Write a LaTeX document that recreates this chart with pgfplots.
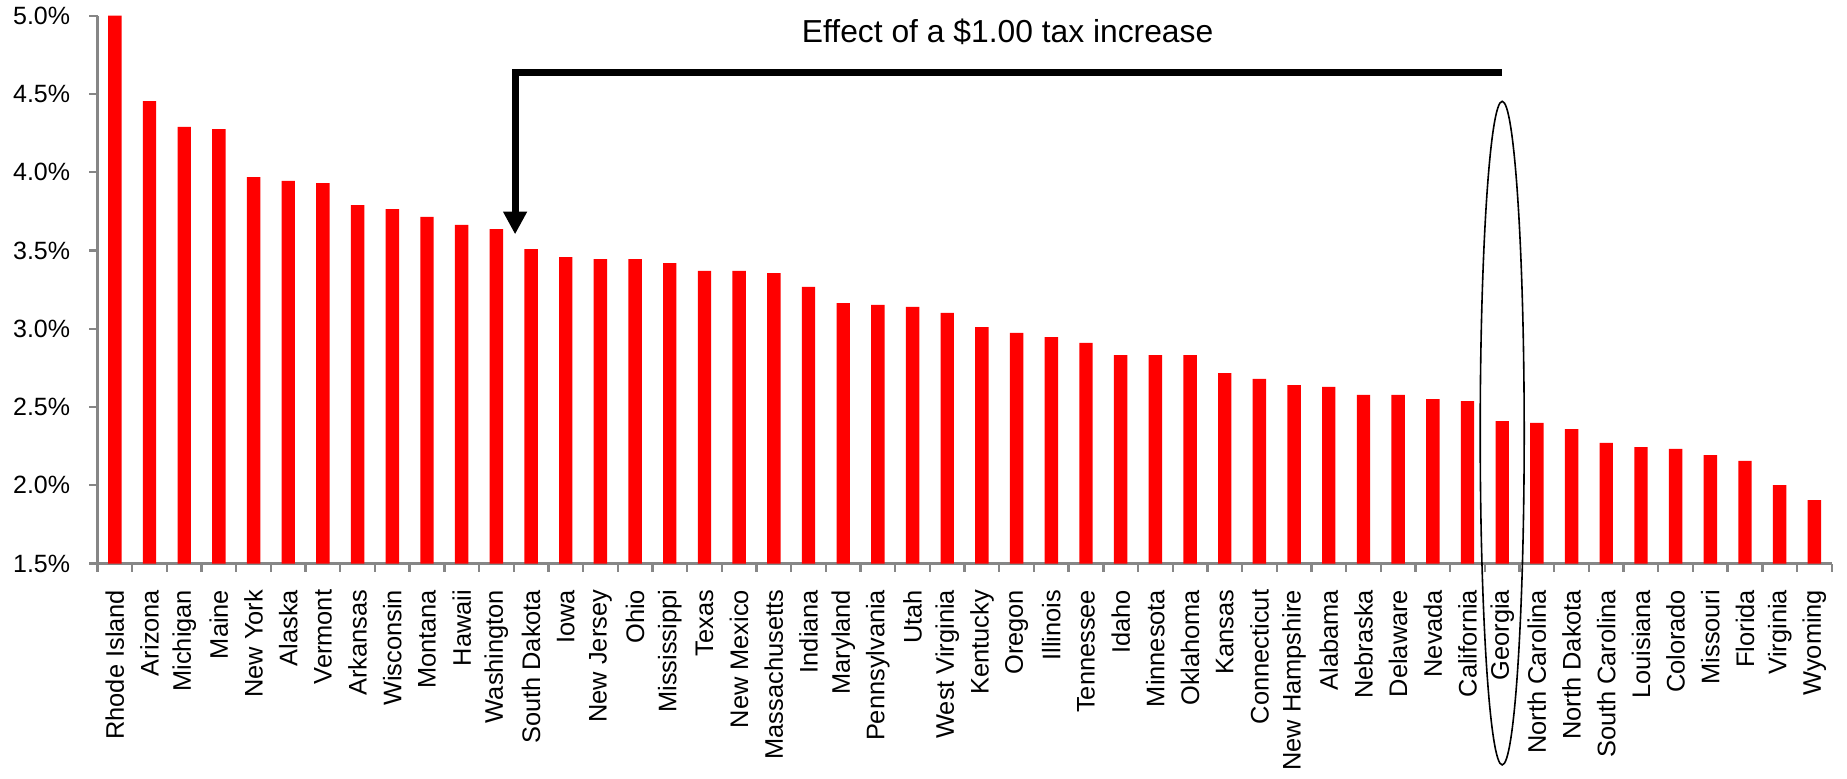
\documentclass[border=0pt]{standalone}
\usepackage{fontspec}
\setmainfont{Liberation Sans}
\usepackage{pgfplots}
\pgfplotsset{compat=1.18}
\usetikzlibrary{arrows.meta}
\definecolor{axgray}{HTML}{868686}
\definecolor{barred}{HTML}{FF0000}
\begin{document}
\begin{tikzpicture}
\begin{axis}[
  scale only axis, width=867.1pt, height=273.9pt,
  xmin=-0.5, xmax=49.5, ymin=1.5, ymax=5,
  axis lines*=left,
  axis line style={draw=axgray, line width=1.2pt},
  ybar, bar width=6.7pt,
  xtick={-0.5,0.5,...,49.5},
  x tick label as interval,
  xticklabels={Rhode Island,Arizona,Michigan,Maine,New York,Alaska,Vermont,Arkansas,Wisconsin,Montana,Hawaii,Washington,South Dakota,Iowa,New Jersey,Ohio,Mississippi,Texas,New Mexico,Massachusetts,Indiana,Maryland,Pennsylvania,Utah,West Virginia,Kentucky,Oregon,Illinois,Tennessee,Idaho,Minnesota,Oklahoma,Kansas,Connecticut,New Hampshire,Alabama,Nebraska,Delaware,Nevada,California,Georgia,North Carolina,North Dakota,South Carolina,Louisiana,Colorado,Missouri,Florida,Virginia,Wyoming},
  ytick={1.5,2,2.5,3,3.5,4,4.5,5},
  yticklabels={1.5\%,2.0\%,2.5\%,3.0\%,3.5\%,4.0\%,4.5\%,5.0\%},
  tick align=outside, major tick length=4pt,
  tick style={draw=axgray, line width=1.2pt},
  xticklabel style={rotate=90, anchor=east, inner ysep=0pt, inner xsep=9pt, font=\fontsize{12.7}{14}\selectfont},
  yticklabel style={anchor=east, inner ysep=0pt, inner xsep=9.5pt, font=\fontsize{12.5}{14}\selectfont},
]
\addplot[draw=none, fill=barred] coordinates {
(0,5.00) (1,4.455) (2,4.289) (3,4.276) (4,3.969) (5,3.944) (6,3.931) (7,3.790) (8,3.765) (9,3.714)
(10,3.663) (11,3.637) (12,3.509) (13,3.458) (14,3.445) (15,3.445) (16,3.420) (17,3.369) (18,3.369) (19,3.356)
(20,3.267) (21,3.164) (22,3.152) (23,3.139) (24,3.101) (25,3.011) (26,2.973) (27,2.947) (28,2.909) (29,2.832)
(30,2.832) (31,2.832) (32,2.717) (33,2.679) (34,2.640) (35,2.628) (36,2.577) (37,2.577) (38,2.551) (39,2.538)
(40,2.410) (41,2.398) (42,2.359) (43,2.270) (44,2.244) (45,2.232) (46,2.193) (47,2.155) (48,2.001) (49,1.905)
};
\draw[line width=3.5pt, line join=miter, -{Triangle[width=11.3pt,length=11.4pt]}]
  (axis cs:40,4.635) -| (axis cs:11.54,3.603);
\node[anchor=base, font=\fontsize{15.9}{18}\selectfont, inner sep=0pt] at (axis cs:25.74,4.83) {Effect of a \$1.00 tax increase};
\coordinate (GA) at (axis cs:40,2.333);
\coordinate (SW) at (rel axis cs:0,0);
\end{axis}
\draw[line width=0.8pt] (GA) ellipse [x radius=11pt, y radius=165.9pt];
\pgfresetboundingbox
\path[use as bounding box] ([shift={(-48.75pt,-107.25pt)}]SW) rectangle ([shift={(874.75pt,281.75pt)}]SW);
\end{tikzpicture}
\end{document}
